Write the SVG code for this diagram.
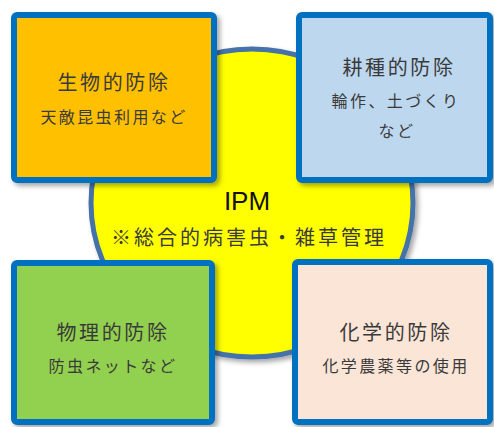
<svg xmlns="http://www.w3.org/2000/svg" width="494" height="427" viewBox="0 0 494 427">
<defs>
<filter id="sh" x="-10%" y="-10%" width="125%" height="125%">
<feDropShadow dx="3" dy="3" stdDeviation="2.5" flood-color="#000" flood-opacity="0.35"/>
</filter>
<style>
.box{stroke:#0070C0;stroke-width:6;filter:url(#sh)}
.t{font-family:"Noto Sans CJK JP","Noto Sans",sans-serif;text-anchor:middle;fill:#3a3a3a}
.h{font-size:20px;letter-spacing:2.6px}
.s{font-size:16px;letter-spacing:2.4px}
</style>
</defs>
<rect width="494" height="427" fill="#ffffff"/>
<g id="ipm">
<ellipse cx="252" cy="203" rx="161" ry="154" fill="#FFFF00" stroke="#4472A8" stroke-width="5" filter="url(#sh)"/>
<text x="247" y="210" font-family="'Liberation Sans','Noto Sans',sans-serif" font-size="26" text-anchor="middle" fill="#111">IPM</text>
<text class="t" x="249" y="245" font-size="20" letter-spacing="3" fill="#222">※総合的病害虫・雑草管理</text>
</g>
<g id="connectors"/>
<g id="biological">
<rect class="box" x="14" y="15" width="200" height="165" rx="3" fill="#FFC000"/>
<text class="t h" x="114" y="90">生物的防除</text>
<text class="t s" x="114" y="123">天敵昆虫利用など</text>
</g>
<g id="cultural">
<rect class="box" x="299" y="15" width="191" height="165" rx="3" fill="#BDD7EE"/>
<text class="t h" x="399" y="75">耕種的防除</text>
<text class="t s" x="396" y="107">輪作、土づくり</text>
<text class="t s" x="397" y="137">など</text>
</g>
<g id="physical">
<rect class="box" x="14" y="263" width="198" height="159" rx="3" fill="#92D050"/>
<text class="t h" x="113" y="340">物理的防除</text>
<text class="t s" x="113" y="372">防虫ネットなど</text>
</g>
<g id="chemical">
<rect class="box" x="295" y="262" width="195" height="160" rx="3" fill="#FBE5D6"/>
<text class="t h" x="396" y="340">化学的防除</text>
<text class="t s" x="396" y="372">化学農薬等の使用</text>
</g>
</svg>
